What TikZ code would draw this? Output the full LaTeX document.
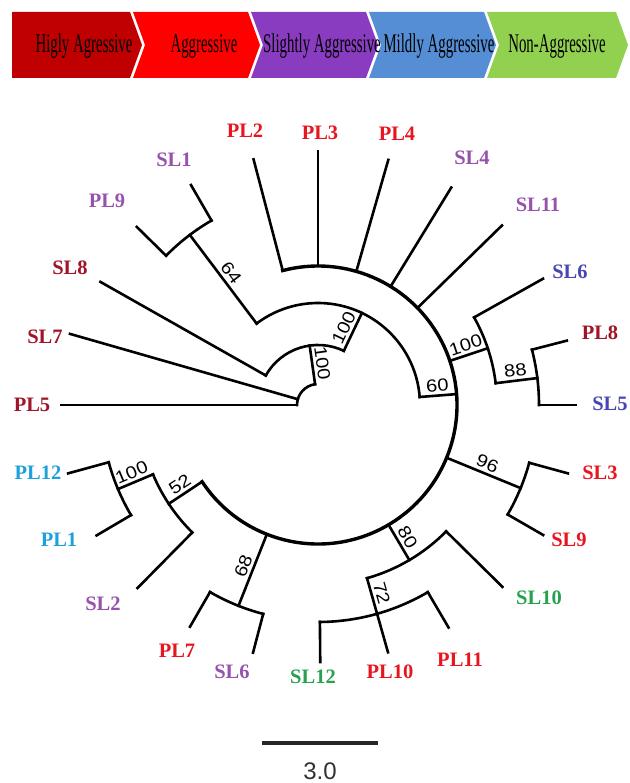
\documentclass[tikz,border=0pt]{standalone}
\usepackage{fontspec}
\setmainfont{Liberation Serif}
\newfontfamily\bsfont{Liberation Sans}
\definecolor{bnA}{RGB}{192,0,0}
\definecolor{bnB}{RGB}{255,0,0}
\definecolor{bnC}{RGB}{138,60,192}
\definecolor{bnD}{RGB}{85,142,213}
\definecolor{bnE}{RGB}{146,208,80}
\definecolor{cDR}{RGB}{160,20,40}
\definecolor{cR}{RGB}{232,20,30}
\definecolor{cP}{RGB}{150,82,172}
\definecolor{cSB}{RGB}{70,70,180}
\definecolor{cCY}{RGB}{30,160,220}
\definecolor{cG}{RGB}{40,160,80}
\definecolor{bartext}{RGB}{50,50,50}
\newcommand{\bsw}[1]{\scalebox{1.15}[1]{#1}}
\newcommand{\bnw}[1]{\scalebox{0.55}[1]{#1}}
\begin{document}
\begin{tikzpicture}[x=1pt,y=1pt,
  br/.style={line width=2.6pt, line cap=rect, black},
  mainbr/.style={line width=3.4pt, line cap=rect, black},
  bs/.style={midway, sloped, above, inner sep=2.6pt, font=\bsfont\fontsize{17.5}{17.5}\selectfont},
  lab/.style={font=\fontsize{20.5}{20.5}\selectfont\bfseries, inner sep=0pt},
  bantext/.style={anchor=base, inner sep=0pt, font=\fontsize{27}{27}\selectfont, black}]
\useasboundingbox (0,0) rectangle (629,-783);
% ---------- banner ----------
\fill[bnA] (12,-12) -- (130,-12) -- (142,-45) -- (130,-78) -- (12,-78) -- cycle;
\fill[bnB] (133,-12) -- (248,-12) -- (260,-45) -- (248,-78) -- (133,-78) -- (145,-45) -- cycle;
\fill[bnC] (251,-12) -- (366,-12) -- (378,-45) -- (366,-78) -- (251,-78) -- (263,-45) -- cycle;
\fill[bnD] (369,-12) -- (484,-12) -- (496,-45) -- (484,-78) -- (369,-78) -- (381,-45) -- cycle;
\fill[bnE] (487,-12) -- (616,-12) -- (628,-45) -- (616,-78) -- (487,-78) -- (499,-45) -- cycle;
\node[bantext] (b1) at (84,-53) {\bnw{Higly Agressive}};
\node[bantext] (b2) at (204,-53) {\bnw{Aggressive}};
\node[bantext] (b3) at (322,-53) {\bnw{Slightly Aggressive}};
\node[bantext] (b4) at (439,-53) {\bnw{Mildly Aggressive}};
\node[bantext] (b5) at (557,-53) {\bnw{Non-Aggressive}};
% ---------- tree ----------
\begin{scope}[shift={(318,-405)}]
  % root
  \draw[br] (98:21pt) arc[start angle=98, end angle=180, radius=21pt];
  \draw[br] (180:21pt) -- (180:257pt) coordinate (tPL5);
  \draw[br] (164:21pt) -- (164:258pt) coordinate (tSL7);
  % lower 100
  \draw[br] (98:21pt) coordinate (n0) -- node[bs]{\bsw{100}} (98:60pt) coordinate (nL100);
  \draw[br] (64.5:60pt) arc[start angle=64.5, end angle=150.5, radius=60pt];
  \draw[br] (150.5:60pt) -- (150.5:250pt) coordinate (tSL8);
  % upper 100
  \draw[br] (64.5:60pt) -- node[bs]{\bsw{100}} (64.5:102pt) coordinate (nU100);
  \draw[br] (4.5:102pt) arc[start angle=4.5, end angle=127, radius=102pt];
  % node 64
  \draw[br] (127:102pt) -- node[bs]{\bsw{64}} (127:213pt) coordinate (n64);
  \draw[br] (120:213pt) arc[start angle=120, end angle=135.5, radius=213pt];
  \draw[br] (135.5:213pt) -- (135.5:254pt) coordinate (tPL9);
  \draw[br] (120:213pt) -- (120:254pt) coordinate (tSL1);
  % node 60 (main arc)
  \draw[br] (4.5:102pt) -- node[bs]{\bsw{60}} (4.5:139pt) coordinate (n60);
  \draw[mainbr] (-146.5:139pt) arc[start angle=-146.5, end angle=104.7, radius=139pt];
  \draw[br] (104.7:139pt) -- (104.7:254pt) coordinate (tPL2);
  \draw[br] (90:139pt) -- (90:254pt) coordinate (tPL3);
  \draw[br] (74:139pt) -- (74:255pt) coordinate (tPL4);
  \draw[br] (58.5:139pt) -- (58.5:255pt) coordinate (tSL4);
  \draw[br] (44.3:139pt) -- (44.3:257pt) coordinate (tSL11);
  % node 100 right
  \draw[br] (18.5:139pt) -- node[bs]{\bsw{100}} (18.5:179pt) coordinate (nR100);
  \draw[br] (7:179pt) arc[start angle=7, end angle=29.3, radius=179pt];
  \draw[br] (29.3:179pt) -- (29.3:258pt) coordinate (tSL6a);
  % node 88
  \draw[br] (7:179pt) -- node[bs]{\bsw{88}} (7:221pt) coordinate (n88);
  \draw[br] (0:221pt) arc[start angle=0, end angle=14.5, radius=221pt];
  \draw[br] (14.5:221pt) -- (14.5:257pt) coordinate (tPL8);
  \draw[br] (0:221pt) -- (0:258pt) coordinate (tSL5);
  % node 96
  \draw[br] (-22.3:139pt) -- node[bs]{\bsw{96}} (-22.3:219pt) coordinate (n96);
  \draw[br] (-30:219pt) arc[start angle=-30, end angle=-15.3, radius=219pt];
  \draw[br] (-15.3:219pt) -- (-15.3:259pt) coordinate (tSL3);
  \draw[br] (-30:219pt) -- (-30:260pt) coordinate (tSL9);
  % node 80
  \draw[br] (-59.5:139pt) -- node[bs]{\bsw{80}} (-59.5:180pt) coordinate (n80);
  \draw[br] (-74.2:180pt) arc[start angle=-74.2, end angle=-44.6, radius=180pt];
  \draw[br] (-44.6:180pt) -- (-44.6:259pt) coordinate (tSL10);
  % node 72
  \draw[br] (-74.2:180pt) -- node[bs]{\bsw{72}} (-74.2:217pt) coordinate (n72);
  \draw[br] (-89.5:217pt) arc[start angle=-89.5, end angle=-59.6, radius=217pt];
  \draw[br] (-59.6:217pt) -- (-59.6:258pt) coordinate (tPL11);
  \draw[br] (-74.2:217pt) -- (-74.2:257pt) coordinate (tPL10);
  \draw[br] (-89.5:217pt) -- (-89.5:257pt) coordinate (tSL12);
  % node 68
  \draw[br] (-111.6:139pt) -- node[bs]{\bsw{68}} (-111.6:216pt) coordinate (n68);
  \draw[br] (-120:216pt) arc[start angle=-120, end angle=-104.7, radius=216pt];
  \draw[br] (-120:216pt) -- (-120:256pt) coordinate (tPL7);
  \draw[br] (-104.7:216pt) -- (-104.7:256pt) coordinate (tSL6b);
  % node 52
  \draw[br] (-146.5:139pt) -- node[bs]{\bsw{52}} (-146.5:179pt) coordinate (n52);
  \draw[br] (-157.2:179pt) arc[start angle=-157.2, end angle=-134.6, radius=179pt];
  \draw[br] (-134.6:179pt) -- (-134.6:257pt) coordinate (tSL2);
  % node 100 bottom-left
  \draw[br] (-157.2:179pt) -- node[bs]{\bsw{100}} (-157.2:217pt) coordinate (nB100);
  \draw[br] (-164.7:217pt) arc[start angle=-164.7, end angle=-149.5, radius=217pt];
  \draw[br] (-164.7:217pt) -- (-164.7:259pt) coordinate (tPL12);
  \draw[br] (-149.5:217pt) -- (-149.5:257pt) coordinate (tPL1);
\end{scope}
% ---------- leaf labels ----------
\node[lab, cR]  (PL2)  at (245,-131) {PL2};
\node[lab, cR]  (PL3)  at (320,-133) {PL3};
\node[lab, cR]  (PL4)  at (397,-134) {PL4};
\node[lab, cP]  (SL4)  at (472,-158) {SL4};
\node[lab, cP]  (SL11) at (538,-205) {SL11};
\node[lab, cSB] (SL6a) at (570,-272) {SL6};
\node[lab, cDR] (PL8)  at (600,-333) {PL8};
\node[lab, cSB] (SL5)  at (610,-404) {SL5};
\node[lab, cR]  (SL3)  at (600,-473) {SL3};
\node[lab, cR]  (SL9)  at (569,-540) {SL9};
\node[lab, cG]  (SL10) at (539,-598) {SL10};
\node[lab, cR]  (PL11) at (460,-660) {PL11};
\node[lab, cR]  (PL10) at (390,-672) {PL10};
\node[lab, cG]  (SL12) at (313,-677) {SL12};
\node[lab, cP]  (SL6b) at (232,-672) {SL6};
\node[lab, cR]  (PL7)  at (177,-651) {PL7};
\node[lab, cP]  (SL2)  at (103,-604) {SL2};
\node[lab, cCY] (PL1)  at (59,-540) {PL1};
\node[lab, cCY] (PL12) at (38,-473) {PL12};
\node[lab, cDR] (PL5)  at (32,-405) {PL5};
\node[lab, cDR] (SL7)  at (45,-337) {SL7};
\node[lab, cDR] (SL8)  at (70,-268) {SL8};
\node[lab, cP]  (PL9)  at (107,-201) {PL9};
\node[lab, cP]  (SL1)  at (174,-160) {SL1};
% ---------- scale bar ----------
\coordinate (sb1) at (262,-743);
\coordinate (sb2) at (378,-743);
\draw[line width=3.6pt, black!85] (sb1) -- (sb2);
\node[font=\bsfont\fontsize{24}{24}\selectfont, text=bartext, inner sep=0pt] (sbl) at (320,-771) {3.0};
\end{tikzpicture}
\end{document}
